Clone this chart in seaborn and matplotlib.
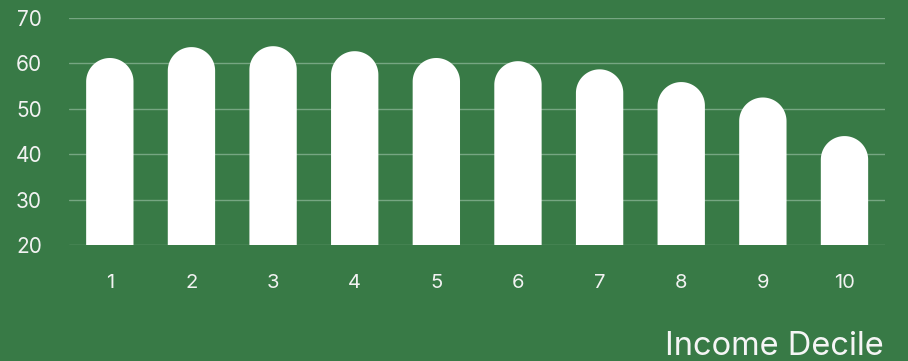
import numpy as np
import pandas as pd
import matplotlib
matplotlib.use("Agg")
import matplotlib.pyplot as plt
from matplotlib.path import Path
from matplotlib.patches import PathPatch
import seaborn as sns

# Share of income decile (1 = lowest) values
deciles = ["1", "2", "3", "4", "5", "6", "7", "8", "9", "10"]
values = [61.2, 63.6, 63.8, 62.7, 61.2, 60.5, 58.7, 55.9, 52.5, 44.0]
y_ticks = [20, 30, 40, 50, 60, 70]

BG = "#387a46"
GRID = "#76a682"

sns.set_theme(style="white")
plt.rcParams["font.family"] = ["Inter", "DejaVu Sans"]

fig = plt.figure(figsize=(9.08, 3.61), dpi=100, facecolor=BG)
ax = fig.add_axes([0.076, 0.3213, 0.899, 0.6287])
ax.set_facecolor(BG)

df = pd.DataFrame({"decile": deciles, "value": values})
sns.barplot(data=df, x="decile", y="value", color="white", width=0.58,
            saturation=1, ax=ax, zorder=3)

ax.set_ylim(20, 70)
ax.set_xlim(-0.5, len(deciles) - 0.5)
ax.set_yticks(y_ticks)
ax.yaxis.grid(True, color=GRID, linewidth=1.0, zorder=0)
ax.set_axisbelow(True)
for s in ax.spines.values():
    s.set_visible(False)

ax.tick_params(axis="y", length=0, pad=19.5, labelsize=15, labelcolor="#f2f2f2")
ax.tick_params(axis="x", length=0, pad=21, labelsize=14.5, labelcolor="#f2f2f2")
ax.set_ylabel("")
ax.set_xlabel("")

fig.text(0.973, 0.018, "Income Decile", ha="right", va="baseline",
         fontsize=23.5, color="#f5f5f5")

# Replace rectangular bars with round-topped bars (semicircle caps in pixels)
fig.canvas.draw()
px_per_x = ax.transData.transform((1, 0))[0] - ax.transData.transform((0, 0))[0]
px_per_y = ax.transData.transform((0, 1))[1] - ax.transData.transform((0, 0))[1]
for p in list(ax.patches):
    x0 = p.get_x()
    w = p.get_width()
    top = p.get_y() + p.get_height()
    bottom = 0
    r_px = w * px_per_x / 2
    ry = r_px / px_per_y
    cx = x0 + w / 2
    theta = np.linspace(np.pi, 0, 60)
    arc_x = cx + (w / 2) * np.cos(theta)
    arc_y = (top - ry) + ry * np.sin(theta)
    verts = [(x0, bottom)] + list(zip(arc_x, arc_y)) + [(x0 + w, bottom), (x0, bottom)]
    codes = [Path.MOVETO] + [Path.LINETO] * (len(verts) - 2) + [Path.CLOSEPOLY]
    patch = PathPatch(Path(verts, codes), facecolor="white", edgecolor="none", zorder=3)
    p.set_visible(False)
    ax.add_patch(patch)

fig.savefig("out.png", dpi=100, facecolor=BG)
